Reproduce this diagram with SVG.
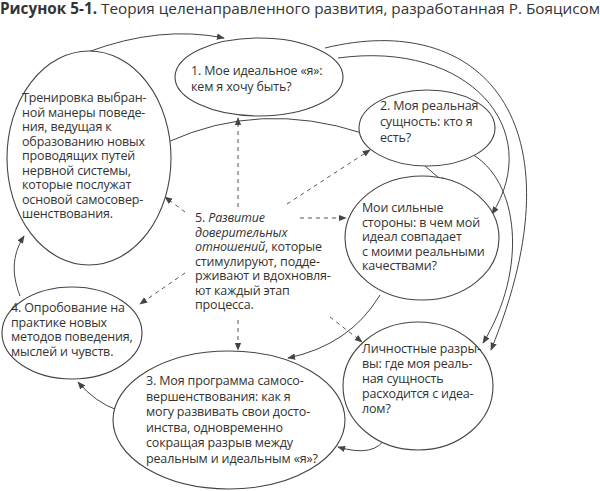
<svg xmlns="http://www.w3.org/2000/svg" width="600" height="491" viewBox="0 0 600 491">
<style>
text{font-family:"Open Sans","Liberation Sans",sans-serif;font-size:12.5px;letter-spacing:-0.15px;fill:#333;}
.t{font-size:15.3px;letter-spacing:0}
.n{fill:#fff;stroke:#444;stroke-width:1.1}
.c{fill:none;stroke:#444;stroke-width:1}
.d{fill:none;stroke:#555;stroke-width:1;stroke-dasharray:4 4}
</style>
<defs>
<marker id="a" viewBox="0 0 10 10" refX="9" refY="5" markerWidth="8" markerHeight="8" orient="auto" markerUnits="userSpaceOnUse"><path d="M0,1 L10,5 L0,9 z" fill="#444"/></marker>
</defs>
<rect width="600" height="491" fill="#fff"/>
<text class="t" x="0" y="14"><tspan font-weight="bold">Рисунок 5-1.</tspan> Теория целенаправленного развития, разработанная Р. Бояцисом</text>
<g id="connectors">
<path class="c" d="M88 52 Q160 25 224 38" marker-end="url(#a)"/>
<path class="c" d="M325 48 C480 10 585 120 491 350" marker-end="url(#a)"/>
<path class="c" d="M338 58 C470 40 545 130 492 214" marker-end="url(#a)"/>
<path class="c" d="M470 153 C520 180 528 270 483 343" marker-end="url(#a)"/>
<path class="c" d="M425 166 L446 184" marker-end="url(#a)"/>
<path class="c" d="M168 142 Q260 100 362 133"/>
<path class="c" d="M20 296 C10 270 14 252 24 236" marker-end="url(#a)"/>
<path class="c" d="M117 410 Q95 402 78 382" marker-end="url(#a)"/>
<path class="c" d="M386 437 Q375 458 338 447" marker-end="url(#a)"/>
<path class="c" d="M380 295 Q350 345 288 358" marker-end="url(#a)"/>
<path class="d" d="M238 207 L238 118" marker-end="url(#a)"/>
<path class="d" d="M287 204 L370 150" marker-end="url(#a)"/>
<path class="d" d="M300 218 L346 218" marker-end="url(#a)"/>
<path class="d" d="M185 212 L165 197" marker-end="url(#a)"/>
<path class="d" d="M185 273 L140 304" marker-end="url(#a)"/>
<path class="d" d="M238 320 L238 350" marker-end="url(#a)"/>
<path class="d" d="M330 317 L362 342" marker-end="url(#a)"/>
</g>
<g id="n1"><ellipse class="n" cx="259" cy="77" rx="84" ry="39"/>
<text x="191" y="75">1. Мое идеальное «я»:</text><text x="191" y="91">кем я хочу быть?</text></g>
<g id="n2"><ellipse class="n" cx="427" cy="128" rx="68" ry="38"/>
<text x="380" y="110">2. Моя реальная</text><text x="380" y="126">сущность: кто я</text><text x="380" y="142">есть?</text></g>
<g id="train"><ellipse class="n" cx="89" cy="158" rx="82" ry="107"/>
<text x="22" y="102">Тренировка выбран-</text><text x="22" y="116.5">ной манеры поведе-</text><text x="22" y="131">ния, ведущая к</text><text x="22" y="145.5">образованию новых</text><text x="22" y="160">проводящих путей</text><text x="22" y="174.5">нервной системы,</text><text x="22" y="189">которые послужат</text><text x="22" y="203.5">основой самосовер-</text><text x="22" y="218">шенствования.</text></g>
<g id="n5">
<text x="195" y="222">5. <tspan font-style="italic">Развитие</tspan></text><text x="195" y="236.5" font-style="italic">доверительных</text><text x="195" y="251"><tspan font-style="italic">отношений</tspan>, которые</text><text x="195" y="265.5">стимулируют, подде-</text><text x="195" y="280">рживают и вдохновля-</text><text x="195" y="294.5">ют каждый этап</text><text x="195" y="309">процесса.</text></g>
<g id="strengths"><ellipse class="n" cx="422" cy="238" rx="77" ry="62"/>
<text x="362" y="212">Мои сильные</text><text x="362" y="226.5">стороны: в чем мой</text><text x="362" y="241">идеал совпадает</text><text x="362" y="255.5">с моими реальными</text><text x="362" y="270">качествами?</text></g>
<g id="n4"><ellipse class="n" cx="72" cy="333" rx="70" ry="46"/>
<text x="11" y="312">4. Опробование на</text><text x="11" y="326.5">практике новых</text><text x="11" y="341">методов поведения,</text><text x="11" y="355.5">мыслей и чувств.</text></g>
<g id="gaps"><ellipse class="n" cx="418" cy="386" rx="75" ry="64"/>
<text x="362" y="353">Личностные разры-</text><text x="362" y="368">вы: где моя реаль-</text><text x="362" y="383">ная сущность</text><text x="362" y="398">расходится с идеа-</text><text x="362" y="413">лом?</text></g>
<g id="n3"><ellipse class="n" cx="229" cy="420" rx="116" ry="69"/>
<text x="146" y="385">3. Моя программа самосо-</text><text x="146" y="400.5">вершенствования: как я</text><text x="146" y="416">могу развивать свои досто-</text><text x="146" y="431.5">инства, одновременно</text><text x="146" y="447">сокращая разрыв между</text><text x="146" y="462.5">реальным и идеальным «я»?</text></g>
</svg>
